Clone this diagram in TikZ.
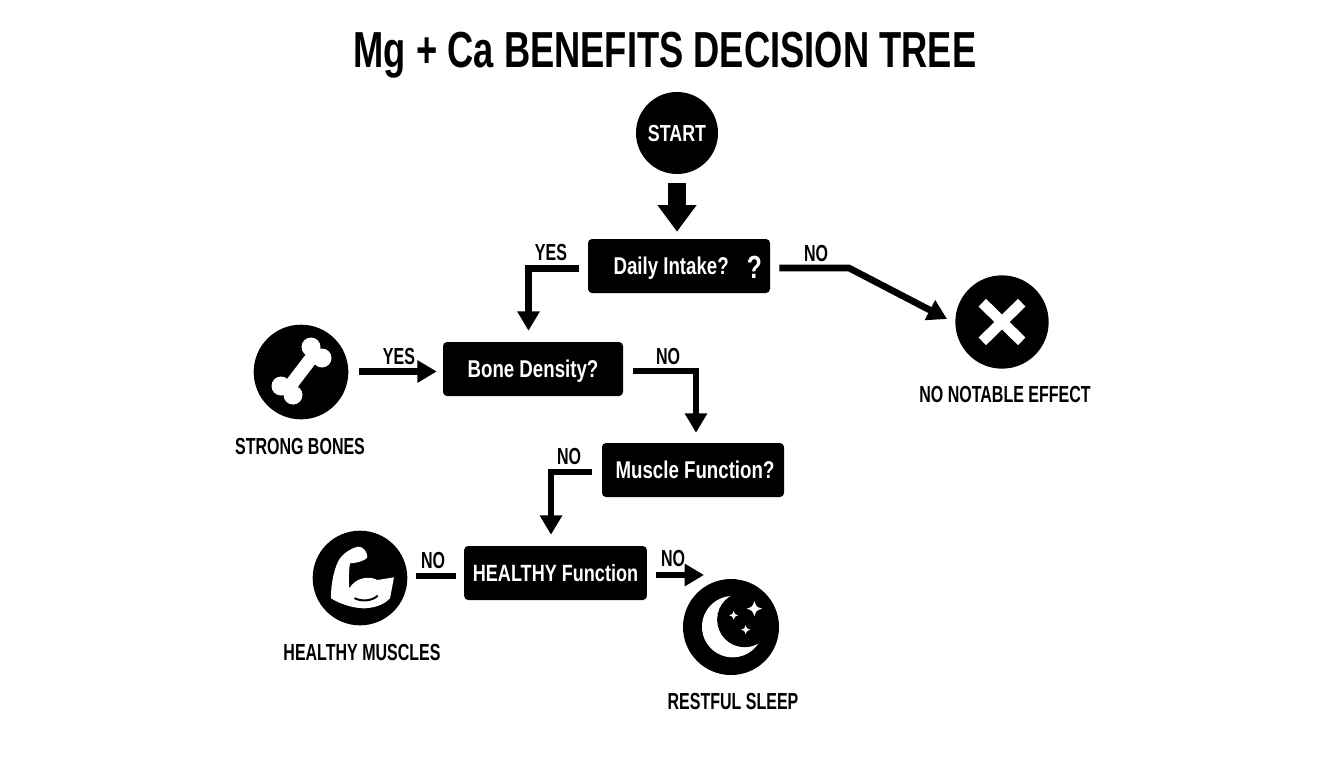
\documentclass[tikz,border=0pt]{standalone}
\usepackage{fontspec}
\setmainfont{Liberation Sans}[FakeStretch=0.77]
\newfontfamily\titlef{Liberation Sans}[FakeStretch=0.717]
\newfontfamily\capf{Liberation Sans}[FakeStretch=0.69]
\usetikzlibrary{arrows.meta,calc,shapes.geometric}
\tikzset{
  boxnode/.style={fill=black,text=white,rounded corners=3pt,minimum width=136.5pt,minimum height=40.5pt,inner sep=0pt,font=\bfseries\fontsize{18.2}{20}\selectfont,text height=13pt,text depth=0pt},
  disc/.style={circle,fill=black,inner sep=0pt},
  lbl/.style={inner sep=0pt,font=\capf\bfseries\fontsize{17.4}{20}\selectfont,text height=12.5pt,text depth=0pt},
  conn/.style={line width=5pt,-{Triangle[length=14.5pt,width=16pt]}},
  plain/.style={line width=5pt},
}
\begin{document}
\begin{tikzpicture}[x=.75pt,y=-.75pt]
\useasboundingbox (0,0) rectangle (1344,768);
\fill[white] (0,0) rectangle (1344,768);
\node[inner sep=0pt,font=\titlef\bfseries\fontsize{38}{42}\selectfont,text height=27pt,text depth=0pt] (title) at (665,49) {Mg + Ca BENEFITS DECISION TREE};
% nodes
\node[disc,minimum size=61.5pt,text=white,font=\bfseries\fontsize{17.4}{20}\selectfont,text height=13pt,text depth=0pt] (start) at (677,133) {START};
\node[boxnode] (daily) at (679,266) {\hspace*{13pt}Daily Intake?\hspace{13.5pt}\raisebox{-2.5pt}{\fontsize{24}{24}\selectfont ?}};
\node[boxnode,minimum width=135pt] (bone) at (533,369) {Bone Density?};
\node[boxnode] (muscle) at (693,470) {\hspace*{3pt}Muscle Function?};
\node[boxnode,minimum width=137pt,font=\bfseries\fontsize{17.6}{20}\selectfont] (healthy) at (555.5,573) {HEALTHY Function};
\node[disc,minimum size=71pt] (bones) at (301,372) {};
\node[disc,minimum size=71pt] (arm) at (360,578) {};
\node[disc,minimum size=72pt] (sleep) at (731,627) {};
\node[disc,minimum size=70pt] (none) at (1002,322) {};
% captions
\node[lbl] (c1) at (300,446) {STRONG BONES};
\node[lbl] (c2) at (1005,394) {NO NOTABLE EFFECT};
\node[lbl] (c3) at (362,652) {HEALTHY MUSCLES};
\node[lbl] (c4) at (733,701) {RESTFUL SLEEP};
% connector labels
\node[lbl] (l1) at (551,252) {YES};
\node[lbl] (l2) at (816,253) {NO};
\node[lbl] (l3) at (399,356) {YES};
\node[lbl] (l4) at (668,356) {NO};
\node[lbl] (l5) at (569,456) {NO};
\node[lbl] (l6) at (433,560) {NO};
\node[lbl] (l7) at (673,558) {NO};
% connectors
\draw[line width=14pt,-{Triangle[length=20pt,width=28pt]}] ($(start.south)+(0,9)$) -- ($(daily.north)+(-2,-7)$);
\draw[conn] ($(daily.west)+(-9,2.5)$) -| ($(bone.north)+(-4.5,-11)$);
\coordinate (k1) at (849,268);
\draw[conn,line join=miter] ($(daily.east)+(9,2)$) -- (k1) -- ($(none.west)+(-8,-3)$);
\draw[conn] ($(bones.east)+(10.5,-.5)$) -- ($(bone.west)+(-6,2.5)$);
\draw[conn] ($(bone.east)+(10,2)$) -| ($(muscle.north)+(3,-10)$);
\draw[conn] ($(muscle.west)+(-10,2)$) -| ($(healthy.north)+(-4.5,-11)$);
\draw[plain] ($(arm.east)+(8,-2)$) -- ($(healthy.west)+(-8,3)$);
\coordinate (k2) at (704,575);
\draw[conn] ($(healthy.east)+(9,2)$) -- (k2);
% bone icon
\begin{scope}[white,fill=white]
\draw[line width=10pt] (316,352) -- (287,390);
\fill (311,347) circle (9.5) (322,358) circle (9.5) (281,386) circle (9.5) (293,395) circle (9.5);
\end{scope}
% arm icon
\begin{scope}[shift={(290,520)},x=.25pt,y=-.25pt]
\fill[white] (123,235) .. controls (122,190) and (135,135) .. (150,115)
 .. controls (165,95) and (190,82) .. (205,80) .. controls (220,80) and (232,95) .. (232,112)
 .. controls (225,122) and (205,128) .. (180,130) .. controls (176,155) and (176,185) .. (178,205)
 .. controls (195,175) and (235,165) .. (262,180) -- (312,172) -- (300,235)
 .. controls (285,250) and (265,262) .. (225,265) .. controls (190,265) and (150,252) .. (123,235) -- cycle;
\draw[black,line width=1.5pt,line cap=round] (195,235) .. controls (215,245) and (245,243) .. (262,228);
\end{scope}
% moon icon
\begin{scope}[shift={(640,540)},x=.25pt,y=-.25pt]
\fill[white] (278,260) circle (92);
\fill[black] (314,239) circle (82.6);
\foreach \cx/\cy/\s in {343/206/23,281/226/13,317/269/14}
  \fill[white] (\cx,\cy-\s) .. controls (\cx+.25*\s,\cy-.25*\s) .. (\cx+\s,\cy)
   .. controls (\cx+.25*\s,\cy+.25*\s) .. (\cx,\cy+\s)
   .. controls (\cx-.25*\s,\cy+.25*\s) .. (\cx-\s,\cy)
   .. controls (\cx-.25*\s,\cy-.25*\s) .. cycle;
\end{scope}
% cross icon
\draw[white,line width=8pt] (982.3,302.7) -- (1021.7,341.3) (1021.7,302.7) -- (982.3,341.3);
\end{tikzpicture}
\end{document}
